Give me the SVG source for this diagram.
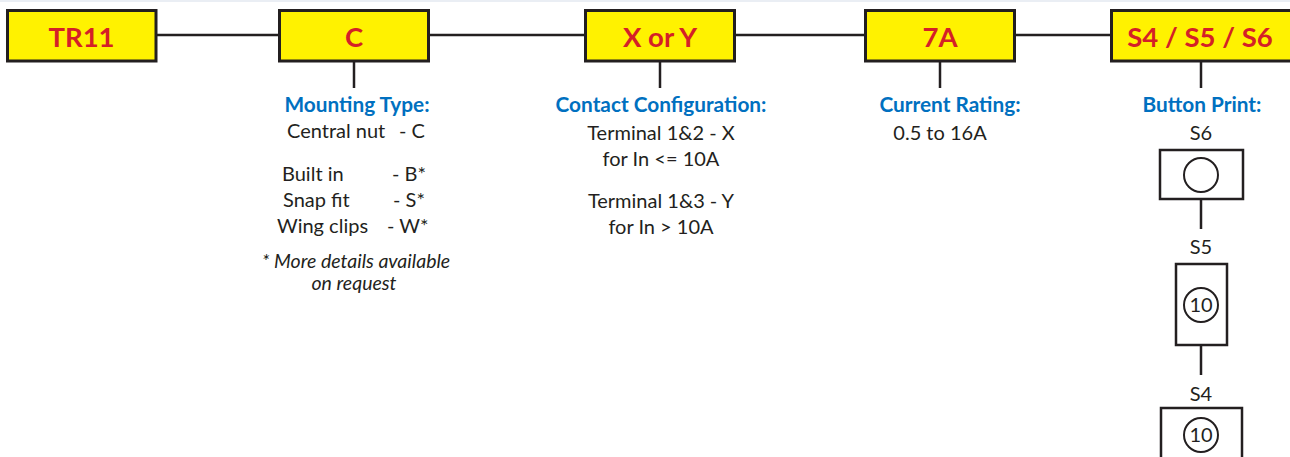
<svg xmlns="http://www.w3.org/2000/svg" width="1290" height="457" viewBox="0 0 1290 457">
<style>
.box{fill:#fff200;stroke:#231f20;stroke-width:3}
.code{font-family:Lato,"Liberation Sans",sans-serif;font-weight:bold;font-size:27.5px;fill:#d42027;text-anchor:middle}
.ttl{font-family:Lato,"Liberation Sans",sans-serif;font-weight:bold;font-size:20.8px;fill:#0070c0;text-anchor:middle}
.txt{font-family:Lato,"Liberation Sans",sans-serif;font-size:20px;fill:#231f20;text-anchor:middle}
.lt{text-anchor:start}
.note{font-family:Lato,"Liberation Sans",sans-serif;font-style:italic;font-size:19.5px;fill:#231f20;text-anchor:middle}
.ln{stroke:#231f20;stroke-width:2.5;fill:none}
.pic{fill:#fff;stroke:#231f20;stroke-width:2.5}
.circ{fill:none;stroke:#231f20;stroke-width:2}
</style>
<rect width="1290" height="457" fill="#fff"/>
<line x1="0" y1="1" x2="1290" y2="1" stroke="#e3e9f1" stroke-width="1.5"/>
<g id="connectors">
<line class="ln" x1="156" y1="35" x2="279" y2="35"/>
<line class="ln" x1="429" y1="35" x2="585" y2="35"/>
<line class="ln" x1="735" y1="35" x2="865" y2="35"/>
<line class="ln" x1="1015" y1="35" x2="1111" y2="35"/>
<line class="ln" x1="354" y1="61" x2="354" y2="88"/>
<line class="ln" x1="660" y1="61" x2="660" y2="88"/>
<line class="ln" x1="940" y1="61" x2="940" y2="88"/>
<line class="ln" x1="1201" y1="61" x2="1201" y2="88"/>
<line class="ln" x1="1201" y1="199" x2="1201" y2="229"/>
<line class="ln" x1="1201" y1="345" x2="1201" y2="375"/>
</g>
<g id="node-tr11">
<rect class="box" x="7.5" y="10.5" width="148.5" height="50.5"/>
<text class="code" x="81.5" y="46.5">TR11</text>
</g>
<g id="node-c">
<rect class="box" x="279.5" y="10.5" width="149" height="50.5"/>
<text class="code" x="354" y="46.5">C</text>
</g>
<g id="node-xy">
<rect class="box" x="585.5" y="10.5" width="149" height="50.5"/>
<text class="code" x="660" y="46.5">X or Y</text>
</g>
<g id="node-7a">
<rect class="box" x="865.5" y="10.5" width="149" height="50.5"/>
<text class="code" x="940" y="46.5">7A</text>
</g>
<g id="node-s">
<rect class="box" x="1111.5" y="10.5" width="182" height="50.5"/>
<text class="code" x="1200" y="46.5">S4 / S5 / S6</text>
</g>
<g id="mounting">
<text class="ttl" x="357" y="112">Mounting Type:</text>
<text class="txt lt" y="138"><tspan x="287">Central nut</tspan><tspan x="399">- C</tspan></text>
<text class="txt lt" y="181"><tspan x="282">Built in</tspan><tspan x="392">- B*</tspan></text>
<text class="txt lt" y="207"><tspan x="283">Snap fit</tspan><tspan x="393">- S*</tspan></text>
<text class="txt lt" y="233"><tspan x="277">Wing clips</tspan><tspan x="387">- W*</tspan></text>
<text class="note" x="356" y="268">* More details available</text>
<text class="note" x="354" y="290">on request</text>
</g>
<g id="contact">
<text class="ttl" x="661" y="112">Contact Configuration:</text>
<text class="txt" x="661" y="140">Terminal 1&amp;2 - X</text>
<text class="txt" x="661" y="166">for In &lt;= 10A</text>
<text class="txt" x="661" y="208">Terminal 1&amp;3 - Y</text>
<text class="txt" x="661" y="234">for In &gt; 10A</text>
</g>
<g id="current">
<text class="ttl" x="950" y="112">Current Rating:</text>
<text class="txt" x="940" y="140">0.5 to 16A</text>
</g>
<g id="button">
<text class="ttl" x="1202" y="112">Button Print:</text>
<text class="txt" x="1201" y="140">S6</text>
<rect class="pic" x="1160" y="150" width="83" height="49"/>
<circle class="circ" cx="1201" cy="175" r="17"/>
<text class="txt" x="1201" y="254">S5</text>
<rect class="pic" x="1176" y="264" width="51" height="81"/>
<circle class="circ" cx="1201" cy="305" r="17"/>
<text class="txt" x="1201" y="312">10</text>
<text class="txt" x="1201" y="401">S4</text>
<rect class="pic" x="1161" y="408" width="81" height="60"/>
<circle class="circ" cx="1201" cy="435" r="17"/>
<text class="txt" x="1201" y="442">10</text>
</g>
</svg>
